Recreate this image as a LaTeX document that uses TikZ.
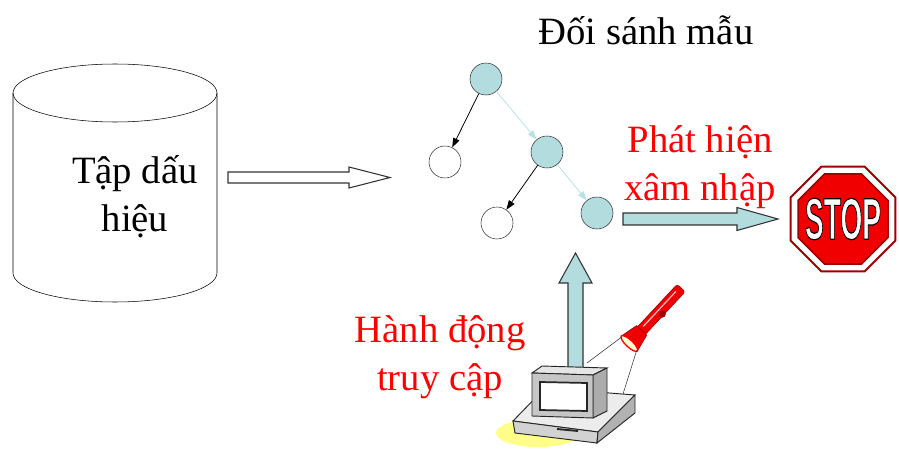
\documentclass[tikz,border=0pt]{standalone}
\usepackage{fontspec}
\setmainfont{Liberation Serif}
\newfontfamily\signfont{Liberation Sans}
\usetikzlibrary{arrows.meta,shapes.geometric}

\definecolor{nodeblue}{HTML}{B3DCDF}
\definecolor{edgeblue}{HTML}{B9E1E5}
\definecolor{darkred}{HTML}{9E0000}
\definecolor{signred}{HTML}{F00000}
\definecolor{glow}{HTML}{FFFF88}

% white letters with a black rim (fill + stroke render mode)
\newcommand\rimtext[1]{\special{pdf:literal direct 0 G 2 Tr 0.9 w}#1\special{pdf:literal direct 0 Tr}}

\begin{document}
\begin{tikzpicture}[x=0.75pt,y=-0.75pt,
    txt/.style={font=\fontsize{29}{36}\selectfont,align=center,inner sep=0pt},
    hit/.style={circle,draw=black!80,fill=nodeblue,minimum size=24pt,inner sep=0pt},
    miss/.style={hit,fill=white},
    blockarr/.style={draw=black!80,line width=0.8pt},
    octagon/.style={regular polygon,regular polygon sides=8,inner sep=0pt},
    stoptxt/.style={font=\signfont\bfseries\fontsize{44}{44}\selectfont,inner sep=0pt}]
\useasboundingbox (0,0) rectangle (899,453);

% signature store
\draw (13,93) -- (13,273) arc[start angle=180,end angle=0,x radius=102,y radius=29] -- (217,93);
\draw (115,93) ellipse[x radius=102,y radius=29];
\node[txt,anchor=base] (db) at (135,231) {Tập dấu\\hiệu};

\coordinate (db out) at (228,177.5);
\draw[blockarr,fill=white] (db out) ++(0,-5.5) -- ++(121,0) -- ++(0,-5) -- ++(41,10.5)
    -- ++(-41,10.5) -- ++(0,-5) -- ++(-121,0) -- cycle;

% matching tree
\node[txt,anchor=base] (title) at (646,45) {Đối sánh mẫu};
\node[hit]  (root) at (486,79) {};
\node[miss] (l1)   at (445,162) {};
\node[hit]  (m1)   at (547,152) {};
\node[miss] (l2)   at (497,223) {};
\node[hit]  (m2)   at (597,213) {};
\begin{scope}[-{Triangle[length=7pt,width=5pt]},semithick]
    \draw (root) -- (l1);
    \draw[edgeblue] (root) -- (m1);
    \draw (m1) -- (l2);
    \draw[edgeblue] (m1) -- (m2);
\end{scope}

% alarm
\node[txt,text=red,anchor=base] (alarm) at (700,200) {Phát hiện\\xâm nhập};
\coordinate (tree out) at (623,219);
\draw[blockarr,fill=nodeblue] (tree out) ++(0,-6) -- ++(114,0) -- ++(0,-5.5) -- ++(41,11.5)
    -- ++(-41,11.5) -- ++(0,-5.5) -- ++(-114,0) -- cycle;

\node[octagon,draw=darkred,line width=1.5pt,fill=white,minimum size=85pt] (stop) at (843,219) {};
\node[octagon,draw=darkred,line width=1.2pt,fill=signred,minimum size=73pt] at (stop) {};
\node[stoptxt,text=white] at (stop) {\rimtext{\scalebox{0.48}[1]{STOP}}};

% access event
\node[txt,text=red,anchor=base] (event) at (440,390) {Hành động\\truy cập};
\fill[glow] (538,433) ellipse[x radius=42,y radius=14];

\coordinate (pc out) at (575.5,372);
\draw[blockarr,fill=nodeblue] (pc out) ++(-7.5,0) -- ++(0,-89) -- ++(-9,0) -- ++(16.5,-30)
    -- ++(16.5,30) -- ++(-9,0) -- ++(0,89) -- cycle;

% computer
\begin{scope}[draw=black!85,line width=0.7pt]
    \draw[fill=gray!15] (513,421) -- (545,388) -- (635,395) -- (598,432) -- cycle;
    \draw[fill=gray!35] (513,421) -- (598,432) -- (597,443) -- (515,433) -- cycle;
    \draw[fill=gray!60] (598,432) -- (635,395) -- (635,413) -- (597,443) -- cycle;
    \draw[line width=1.4pt] (557,429) -- (578,431);
    \draw[fill=gray!20] (532,373) -- (542,366) -- (607,368) -- (593,375) -- cycle;
    \draw[fill=gray!65] (593,375) -- (607,368) -- (607,411) -- (593,418) -- cycle;
    \draw[fill=gray!45] (532,373) -- (593,375) -- (593,418) -- (532,416) -- cycle;
    \draw[fill=white,line width=1.3pt] (540,382) -- (587,383) -- (587,411) -- (540,410) -- cycle;
\end{scope}
\coordinate (mon top) at (587,363);
\coordinate (base top) at (623,394);

% flashlight
\begin{scope}[shift={(628,345)},rotate=47]
    \coordinate (beam a) at (2,-10);
    \coordinate (beam b) at (2,10);
    \draw[darkred,fill=signred,rounded corners=2pt] (18,-5.5) rectangle (78,5.5);
    \draw[white!70!red,line width=1pt] (24,-1.5) -- (72,-1.5);
    \fill[darkred] (46,4) circle (3.5);
    \draw[darkred,fill=signred] (2,-11) -- (20,-7) -- (20,7) -- (2,11) -- cycle;
    \draw[red,fill=glow!40!white,line width=1pt] (2,0) ellipse[x radius=3.5,y radius=11];
\end{scope}
\draw[black!80] (beam a) -- (mon top);
\draw[black!80] (beam b) -- (base top);
\end{tikzpicture}
\end{document}
